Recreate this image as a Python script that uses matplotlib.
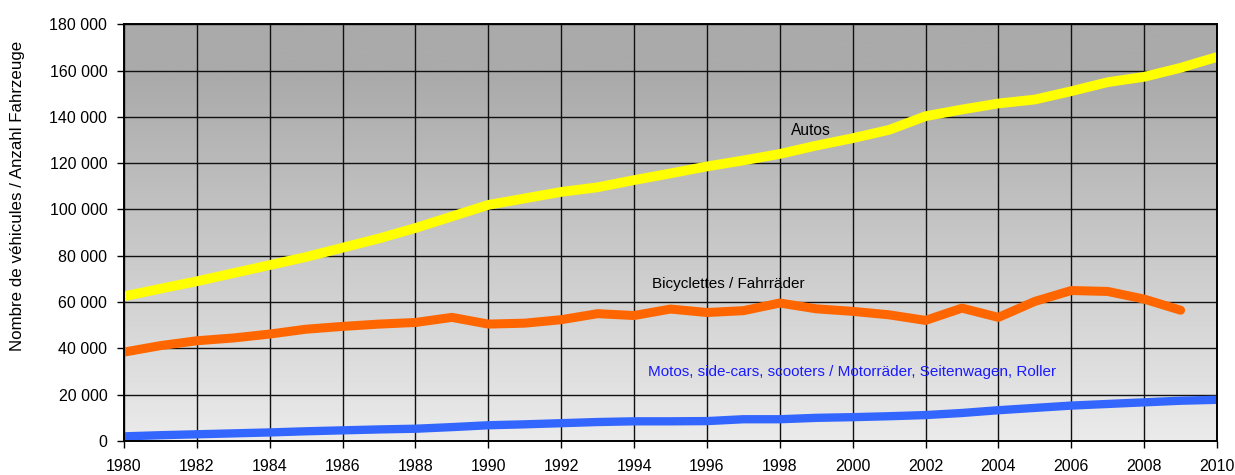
import numpy as np
import matplotlib
matplotlib.use("Agg")
import matplotlib.pyplot as plt
from matplotlib.colors import LinearSegmentedColormap

plt.rcParams["font.family"] = ["Liberation Sans", "DejaVu Sans"]

# Fahrzeugbestand pro Jahr (in Tausend)
years = list(range(1980, 2011))
autos = [62.5, 65.8, 69.0, 72.5, 76.0, 79.5, 83.5, 87.5, 92.0, 97.0, 102.0,
         104.8, 107.6, 109.6, 112.7, 115.6, 118.6, 121.2, 124.0, 127.6, 130.8,
         134.4, 140.3, 143.2, 145.8, 147.5, 151.1, 155.0, 157.3, 161.2, 165.9]
velos = [38.4, 41.2, 43.3, 44.5, 46.2, 48.3, 49.5, 50.5, 51.2, 53.4, 50.5,
         50.9, 52.4, 55.0, 54.2, 57.0, 55.5, 56.3, 59.6, 57.1, 56.0,
         54.5, 52.1, 57.4, 53.4, 60.3, 65.0, 64.6, 61.3, 56.5]
motos = [2.0, 2.5, 2.9, 3.3, 3.7, 4.2, 4.6, 5.0, 5.3, 6.0, 6.8,
         7.2, 7.7, 8.2, 8.5, 8.5, 8.6, 9.4, 9.4, 10.0, 10.3,
         10.7, 11.2, 12.1, 13.3, 14.3, 15.3, 16.0, 16.7, 17.4, 17.8]

label_autos = "Autos"
label_velos = "Bicyclettes / Fahrräder"
label_motos = "Motos, side-cars, scooters / Motorräder, Seitenwagen, Roller"
ylabel = "Nombre de véhicules / Anzahl Fahrzeuge"

x_ticks = list(range(1980, 2011, 2))
y_ticks = list(range(0, 180001, 20000))

fig = plt.figure(figsize=(12.35, 4.75), dpi=100)
ax = fig.add_axes([124 / 1235, 1 - 441 / 475, (1217 - 124) / 1235, (441 - 24.3) / 475])

# Grauverlauf als Hintergrund
t = np.linspace(0, 1, 256)
shade = np.clip((t - 0.12) / 0.88, 0, 1)
grey = LinearSegmentedColormap.from_list("bg", ["#aaaaaa", "#ebebeb"])
ax.imshow(shade[:, None], aspect="auto", cmap=grey, extent=[0, 1, 0, 1],
          transform=ax.transAxes, zorder=0)

k = 1000
ax.plot(years, [v * k for v in autos], color="#ffff00", lw=7, zorder=3,
        solid_capstyle="butt")
ax.plot(years[:len(velos)], [v * k for v in velos], color="#ff6600", lw=6.5,
        zorder=3, solid_capstyle="round")
ax.plot(years, [v * k for v in motos], color="#3366ff", lw=6, zorder=3,
        solid_capstyle="butt")

ax.set_xlim(1980, 2010)
ax.set_ylim(0, 180000)
ax.set_xticks(x_ticks)
ax.set_yticks(y_ticks)
ax.set_yticklabels([f"{v:,}".replace(",", " ") for v in y_ticks])
ax.grid(True, color="#111111", lw=1.0, zorder=1)
for ln in ax.get_xgridlines() + ax.get_ygridlines():
    ln.set_zorder(1)
ax.tick_params(axis="both", direction="out", length=5, width=1, labelsize=11.5,
               colors="black")
ax.tick_params(axis="y", pad=7)
ax.tick_params(axis="x", pad=8)
for s in ax.spines.values():
    s.set_linewidth(1.4)
    s.set_zorder(4)

ax.text(1998.3, 134000, label_autos, fontsize=11.2, color="black", va="center", zorder=5)
ax.text(1994.5, 67800, label_velos, fontsize=11, color="black", va="center", zorder=5)
ax.text(1994.38, 29900, label_motos, fontsize=11, color="#1a1aff", va="center", zorder=5)

fig.text(18 / 1235, 1 - 196 / 475, ylabel, rotation=90, fontsize=12.2,
         ha="center", va="center")

fig.savefig("out.png", dpi=100)
